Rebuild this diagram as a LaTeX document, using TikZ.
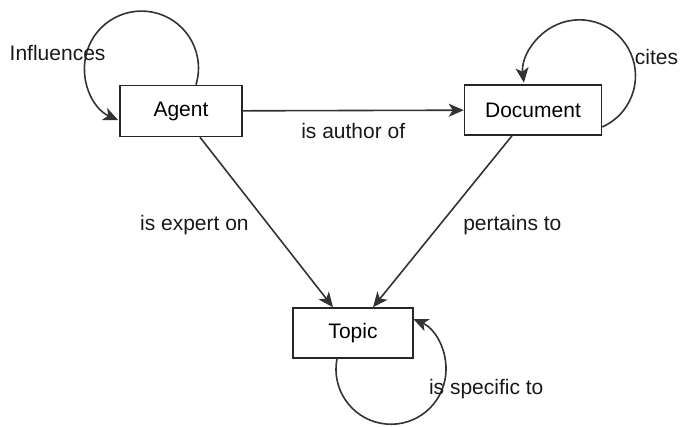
\documentclass[tikz,border=0pt]{standalone}
\usepackage{fontspec}
\setmainfont{Liberation Sans}
\usetikzlibrary{arrows.meta}
\tikzset{
	entity/.style={draw=black!85, line width=1.5pt, fill=white, inner sep=0pt, font=\fontsize{21}{25}\selectfont},
	relation/.style={draw=black!80, line width=1.6pt, -{Stealth[length=15pt,width=13pt,inset=4pt]}},
	rellabel/.style={font=\fontsize{21}{25}\selectfont, text=black!90, inner sep=0pt}
}

\begin{document}
\begin{tikzpicture}[x=1pt, y=1pt]
			%%%%% START %%%%%
			\useasboundingbox (0, 0) rectangle (683, -427);
			
			\node[entity, minimum width=122pt, minimum height=51pt] (agent) at (181, -111) {Agent};
			\node[entity, minimum width=137pt, minimum height=50pt] (document) at (533, -110) {Document};
			\node[entity, minimum width=120pt, minimum height=50pt] (topic) at (353, -333) {Topic};
			
			\draw[relation] (agent) -- (document) node[rellabel, midway, below=12pt] (authorlbl) {is author of};
			\draw[relation] ([xshift=19pt]agent.south) -- ([xshift=-20pt]topic.north) node[rellabel, midway, left=17pt, yshift=-3pt] (expertlbl) {is expert on};
			\draw[relation] ([xshift=-21pt]document.south) -- ([xshift=20pt]topic.north) node[rellabel, midway, right=20pt, yshift=-4pt] (pertainlbl) {pertains to};
			
			% self loops
			\draw[relation] ([xshift=15pt]agent.north) arc[start angle=-17, end angle=246, radius=57] node[rellabel, pos=0.69, xshift=-29pt] (influlbl) {Influences};
			\draw[relation] ([yshift=-17pt]document.east) arc[start angle=-66, end angle=187, radius=56] node[rellabel, pos=0.34, anchor=west, xshift=2pt] (citeslbl) {cites};
			\draw[relation] ([xshift=-16pt]topic.south) arc[start angle=169, end angle=426, radius=55] node[rellabel, pos=0.66, xshift=44pt] (specificlbl) {is specific to};
			
			%%%%% END %%%%%
\end{tikzpicture}
\end{document}
